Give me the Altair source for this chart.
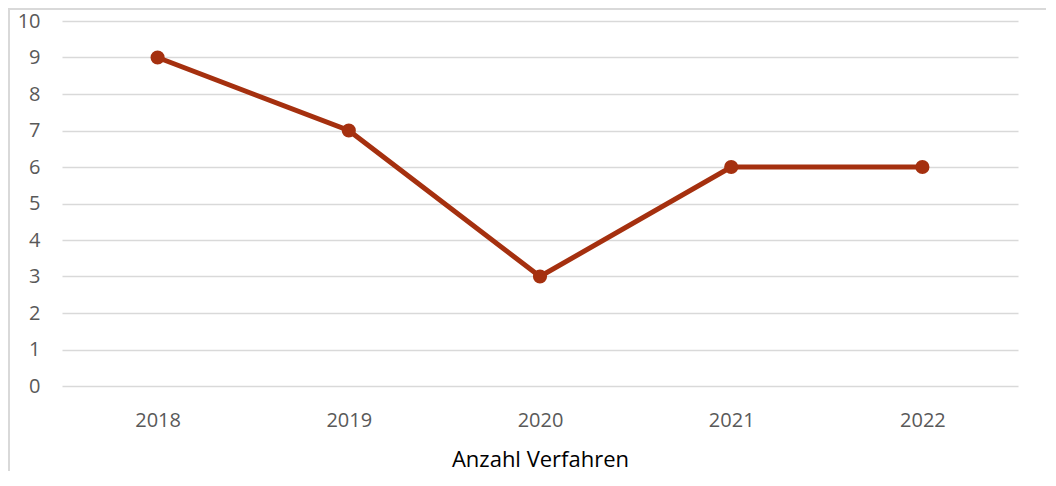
import altair as alt
import pandas as pd

years = ["2018", "2019", "2020", "2021", "2022"]
values = [9, 7, 3, 6, 6]
y_ticks = list(range(0, 11))

df = pd.DataFrame({"Jahr": years, "Anzahl": values})

FONT = "Open Sans"
LINE_COLOR = "#A5300F"

x_enc = alt.X(
    "Jahr:N",
    sort=years,
    scale=alt.Scale(type="point", padding=0.5),
    axis=alt.Axis(
        title="Anzahl Verfahren",
        titleFont=FONT,
        titleFontSize=22,
        titleFontWeight="normal",
        titleColor="#000000",
        titlePadding=19,
        labelFont=FONT,
        labelFontSize=20,
        labelColor="#595959",
        labelPadding=24,
        labelAngle=0,
        ticks=False,
        domain=False,
        grid=False,
    ),
)
y_enc = alt.Y(
    "Anzahl:Q",
    scale=alt.Scale(domain=[0, 10], nice=False),
    axis=alt.Axis(
        title=None,
        values=y_ticks,
        labelFont=FONT,
        labelFontSize=20,
        labelColor="#595959",
        labelPadding=22,
        ticks=False,
        domain=False,
        grid=True,
        gridColor="#D9D9D9",
        gridWidth=1.5,
    ),
)

line = alt.Chart(df).mark_line(
    color=LINE_COLOR, strokeWidth=5,
    point=alt.OverlayMarkDef(color=LINE_COLOR, size=200, filled=True, opacity=1),
).encode(x=x_enc, y=y_enc)

border = alt.Chart(df).mark_rect(
    fill=None, stroke="#D9D9D9", strokeWidth=1.5
).encode(
    x=alt.value(-53), x2=alt.value(1060), y=alt.value(-12), y2=alt.value(500)
)

chart = alt.layer(border, line).properties(
    width=956,
    height=365,
    padding={"left": 54, "top": 13, "right": 28, "bottom": 85},
    autosize=alt.AutoSizeParams(type="none"),
).configure_view(stroke=None)

chart.save("out.html", embed_options={"renderer": "svg", "actions": False})
